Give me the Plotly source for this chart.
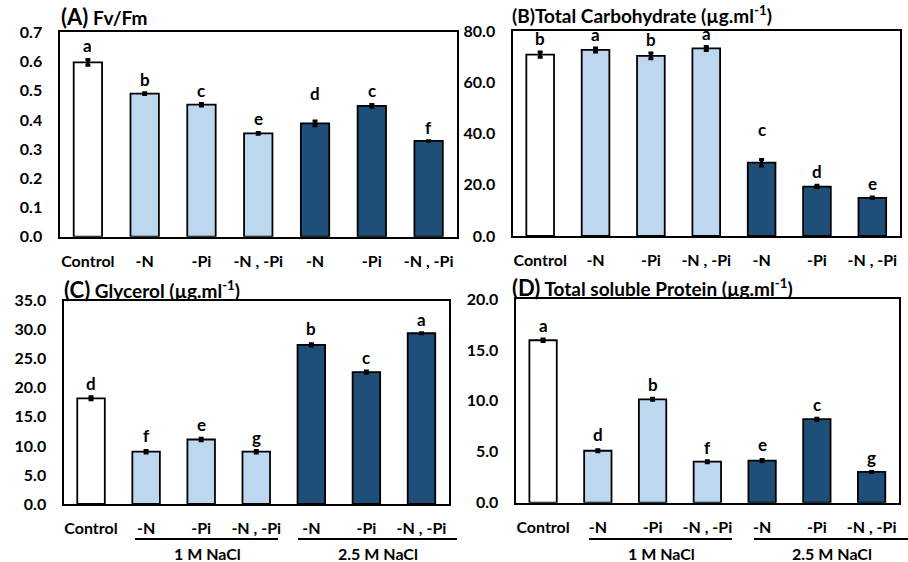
import plotly.graph_objects as go

# ---------------- data ----------------
categories = ["Control", "-N", "-Pi", "-N , -Pi", "-N", "-Pi", "-N , -Pi"]
groups = ["1 M NaCl", "2.5 M NaCl"]

fvfm = [0.597, 0.490, 0.452, 0.354, 0.388, 0.448, 0.328]
fvfm_err = [0.010, 0.003, 0.004, 0.003, 0.008, 0.005, 0.001]
fvfm_letters = ["a", "b", "c", "e", "d", "c", "f"]

carb = [70.8, 72.6, 70.3, 73.2, 28.6, 19.3, 14.9]
carb_err = [1.0, 0.8, 1.1, 0.8, 1.3, 0.5, 0.3]
carb_letters = ["b", "a", "b", "a", "c", "d", "e"]

glycerol = [18.2, 9.0, 11.1, 9.0, 27.4, 22.7, 29.4]
glycerol_err = [0.25, 0.2, 0.2, 0.2, 0.2, 0.2, 0.1]
glycerol_letters = ["d", "f", "e", "g", "b", "c", "a"]

protein = [15.95, 5.1, 10.15, 4.03, 4.13, 8.2, 3.02]
protein_err = [0.12, 0.1, 0.1, 0.1, 0.1, 0.1, 0.05]
protein_letters = ["a", "d", "b", "f", "e", "c", "g"]

# ---------------- style ----------------
W, H = 908, 562
WHITE, LIGHT, DARK = "#FFFFFF", "#BDD7EE", "#1F4E79"
bar_colors = [WHITE, LIGHT, LIGHT, LIGHT, DARK, DARK, DARK]
FONT = "Lato"


def px_x(p):
    return p / W


def px_y(p):
    return 1 - p / H


# panel frames in pixels: (left, right, top, bottom)
panels = [
    dict(vals=fvfm, err=fvfm_err, let=fvfm_letters, rng=[0, 0.7], dtick=0.1,
         box=(59.5, 457, 32.3, 236.7), shift=[0, 0, 0, 0, 14, 0, 0]),
    dict(vals=carb, err=carb_err, let=carb_letters, rng=[0, 80], dtick=20,
         box=(512.5, 900, 31, 236), shift=[0, 0, 0, -1, 16, 0, 0]),
    dict(vals=glycerol, err=glycerol_err, let=glycerol_letters, rng=[0, 35], dtick=5,
         box=(63.5, 449, 300.7, 504), shift=[0, 2, 0, 0, 2, 0, 0]),
    dict(vals=protein, err=protein_err, let=protein_letters, rng=[0, 20], dtick=5,
         box=(515.7, 899, 299, 502.7), shift=[0, 2, 0, 0, 2, 0, 0]),
]

fig = go.Figure()
annotations = []
shapes = []
xs = list(range(len(categories)))

for i, p in enumerate(panels):
    n = "" if i == 0 else str(i + 1)
    fig.add_trace(go.Bar(
        x=xs, y=p["vals"], width=0.5,
        marker=dict(color=bar_colors, line=dict(color="black", width=1.8)),
        error_y=dict(type="data", array=p["err"], color="black", thickness=3, width=2.5),
        xaxis="x" + n, yaxis="y" + n, showlegend=False, hoverinfo="skip",
    ))
    l, r, t, b = p["box"]
    fig.layout["xaxis" + n] = dict(
        domain=[px_x(l), px_x(r)], range=[-0.5, 6.5], anchor="y" + n,
        tickvals=xs, ticktext=categories, showline=True, mirror=True,
        linecolor="black", linewidth=2.2, showgrid=False, zeroline=False,
        ticks="", ticklabelstandoff=9, automargin=False,
        tickfont=dict(family=FONT, size=16, weight="bold", color="black"),
    )
    fig.layout["yaxis" + n] = dict(
        domain=[px_y(b), px_y(t)], range=p["rng"], dtick=p["dtick"], anchor="x" + n,
        tickformat=".1f", showline=True, mirror=True, linecolor="black", linewidth=2.2,
        showgrid=False, zeroline=False, ticks="", ticklabelstandoff=12, automargin=False,
        tickfont=dict(family=FONT, size=16, weight="bold", color="black"),
    )
    for j, (v, e, lt) in enumerate(zip(p["vals"], p["err"], p["let"])):
        annotations.append(dict(
            x=j, y=v + e, xref="x" + n, yref="y" + n, text=lt, showarrow=False,
            yanchor="bottom", yshift=1 + p["shift"][j],
            font=dict(family=FONT, size=17, weight="bold", color="black"),
        ))

# panel titles
titles = [
    ("<span style='font-size:22px'>(A)</span> Fv/Fm", 59, 16),
    ("(B)Total Carbohydrate (µg.ml<sup>-1</sup>)", 510, 15),
    ("<span style='font-size:22px'>(C)</span> Glycerol (µg.ml<sup>-1</sup>)", 62, 289),
    ("<span style='font-size:22px'>(D)</span> Total soluble Protein (µg.ml<sup>-1</sup>)", 510, 287),
]
for txt, x, y in titles:
    annotations.append(dict(
        x=px_x(x), y=px_y(y), xref="paper", yref="paper", text=txt, showarrow=False,
        xanchor="left", yanchor="middle",
        font=dict(family=FONT, size=19, weight="bold", color="black"),
    ))

# group brackets under bottom panels
group_lines = [
    (135, 278, 207), (298, 457, 378),
    (589, 732, 661), (754, 908, 832),
]
for k, (x0, x1, xc) in enumerate(group_lines):
    shapes.append(dict(type="line", xref="paper", yref="paper",
                       x0=px_x(x0), x1=px_x(x1), y0=px_y(539), y1=px_y(539),
                       line=dict(color="black", width=2)))
    annotations.append(dict(
        x=px_x(xc), y=px_y(553), xref="paper", yref="paper", text=groups[k % 2],
        showarrow=False, xanchor="center", yanchor="middle",
        font=dict(family=FONT, size=16, weight="bold", color="black"),
    ))

fig.update_layout(
    template="none",
    width=W, height=H, margin=dict(l=0, r=0, t=0, b=0, autoexpand=False),
    paper_bgcolor="white", plot_bgcolor="white",
    annotations=annotations, shapes=shapes, bargap=0.5,
)

fig.write_html("out.html")
